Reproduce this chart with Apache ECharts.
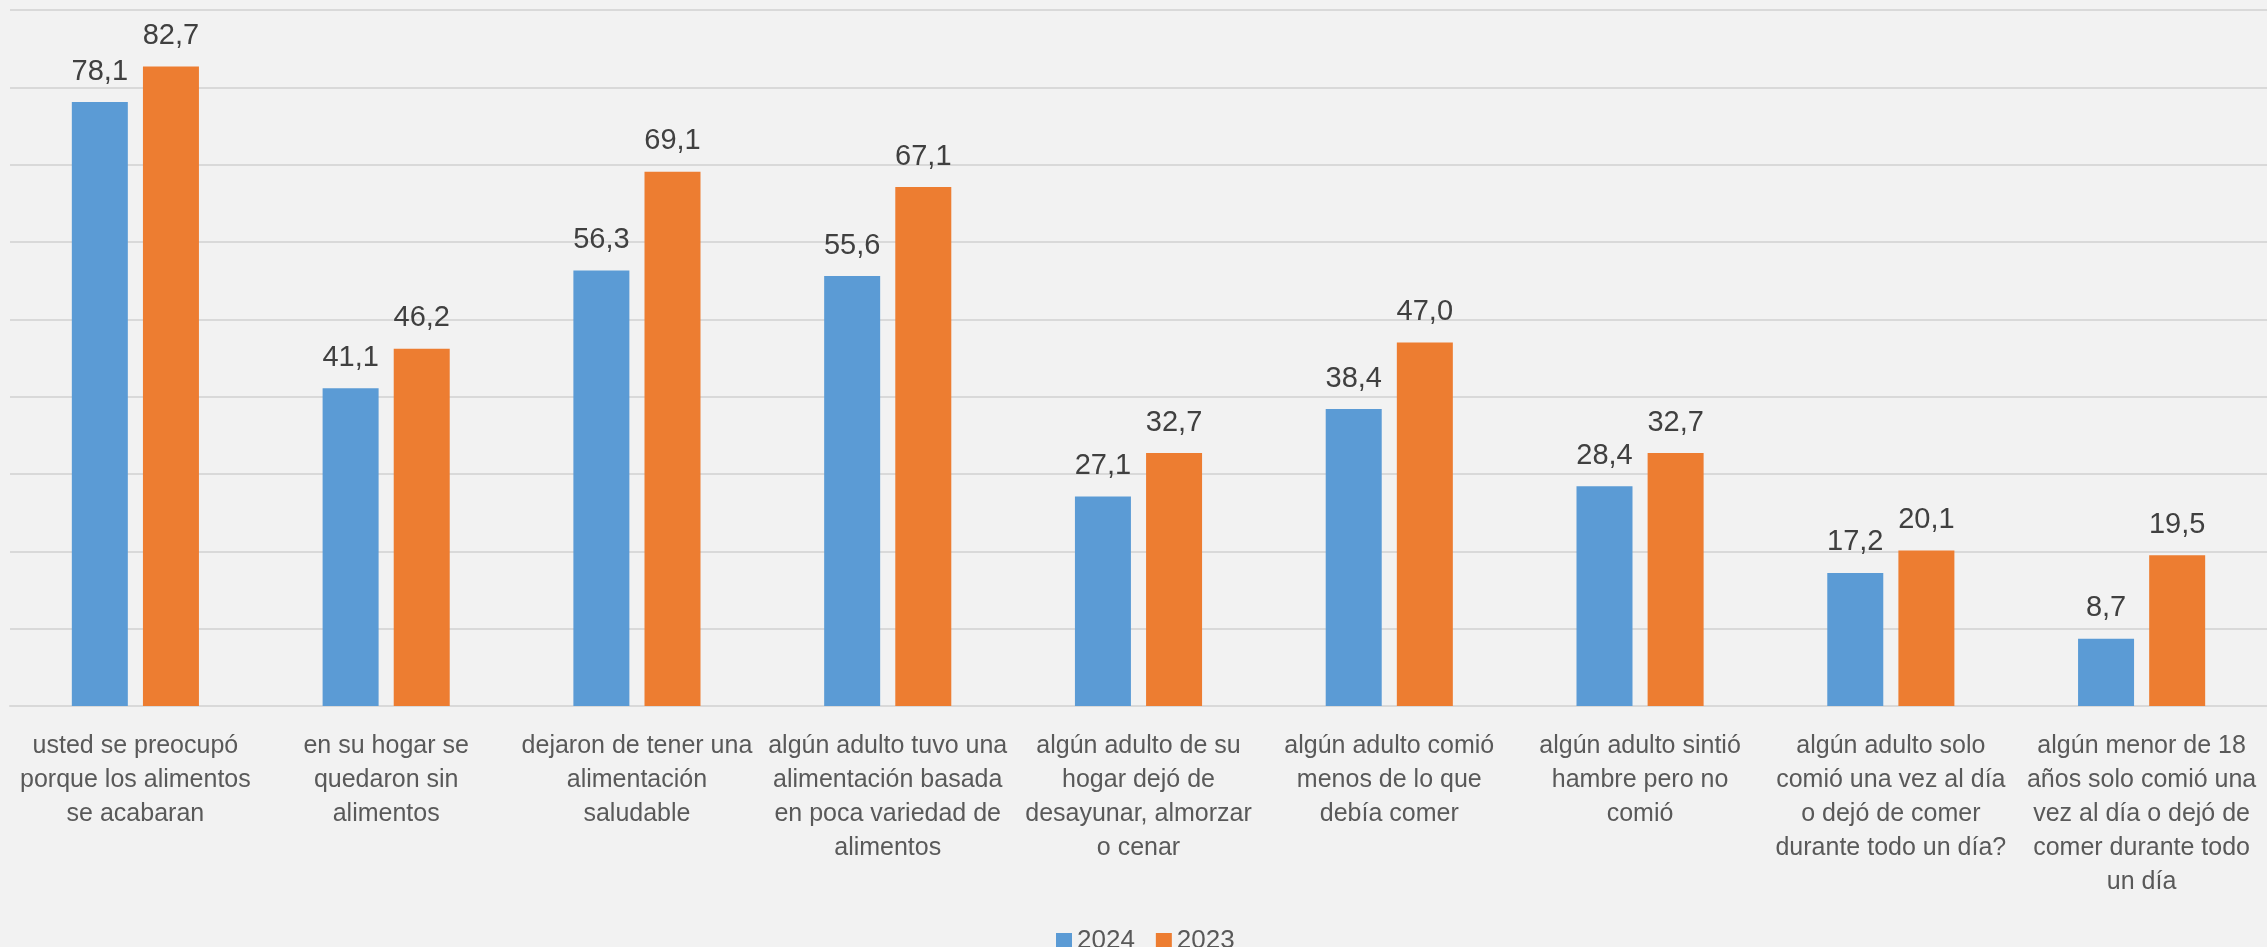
<!DOCTYPE html>
<html>
<head>
<meta charset="utf-8">
<script src="https://cdn.jsdelivr.net/npm/echarts@6/dist/echarts.min.js"></script>
<style>
html,body{margin:0;padding:0;background:#f2f2f2;}
#main{width:2267px;height:947px;}
</style>
</head>
<body>
<div id="main"></div>
<script>
const categories = [
  "usted se preocupó\nporque los alimentos\nse acabaran",
  "en su hogar se\nquedaron sin\nalimentos",
  "dejaron de tener una\nalimentación\nsaludable",
  "algún adulto tuvo una\nalimentación basada\nen poca variedad de\nalimentos",
  "algún adulto de su\nhogar dejó de\ndesayunar, almorzar\no cenar",
  "algún adulto comió\nmenos de lo que\ndebía comer",
  "algún adulto sintió\nhambre pero no\ncomió",
  "algún adulto solo\ncomió una vez al día\no dejó de comer\ndurante todo un día?",
  "algún menor de 18\naños solo comió una\nvez al día o dejó de\ncomer durante todo\nun día"
];
const seriesNames = ["2024", "2023"];
const values2024 = [78.1, 41.1, 56.3, 55.6, 27.1, 38.4, 28.4, 17.2, 8.7];
const values2023 = [82.7, 46.2, 69.1, 67.1, 32.7, 47.0, 32.7, 20.1, 19.5];
const colors = ["#5B9BD5", "#ED7D31"];

const font = '"Liberation Sans", Arial, sans-serif';
const chart = echarts.init(document.getElementById('main'));
const labelCfg = {
  show: true,
  position: 'top',
  distance: 16,
  color: '#404040',
  fontSize: 29,
  fontFamily: font,
  formatter: p => p.value.toFixed(1).replace('.', ',')
};
chart.setOption({
  backgroundColor: '#f2f2f2',
  animation: false,
  grid: { left: 10, right: 0, top: 10, bottom: 241, containLabel: false },
  legend: {
    data: seriesNames,
    top: 923,
    left: 1051,
    itemWidth: 16,
    itemHeight: 16,
    itemGap: 21,
    icon: 'rect',
    textStyle: { color: '#595959', fontSize: 26, fontFamily: font }
  },
  xAxis: {
    type: 'category',
    data: categories,
    axisTick: { show: false },
    axisLine: { show: true, lineStyle: { color: '#d9d9d9', width: 2 } },
    axisLabel: {
      interval: 0,
      margin: 23,
      color: '#595959',
      fontSize: 25,
      lineHeight: 34,
      fontFamily: font,
      align: 'center'
    }
  },
  yAxis: {
    type: 'value',
    min: 0,
    max: 90,
    interval: 10,
    axisLabel: { show: false },
    axisLine: { show: false },
    axisTick: { show: false },
    splitLine: { lineStyle: { color: '#d9d9d9', width: 2 } }
  },
  series: [
    { name: seriesNames[0], type: 'bar', data: values2024, barWidth: 56, barGap: '27%',
      itemStyle: { color: colors[0] }, label: labelCfg },
    { name: seriesNames[1], type: 'bar', data: values2023, barWidth: 56, barGap: '27%',
      itemStyle: { color: colors[1] }, label: labelCfg }
  ]
});
</script>
</body>
</html>
